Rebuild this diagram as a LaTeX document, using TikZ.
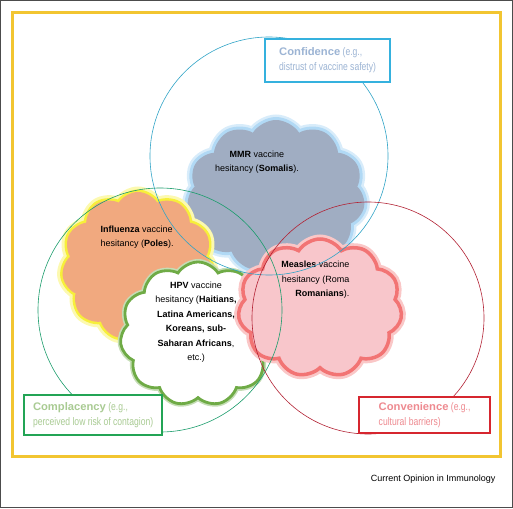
\documentclass[tikz,border=0pt]{standalone}
\usepackage{fontspec}
\setmainfont{Liberation Sans}
\newfontfamily\widefont{Liberation Sans}[FakeStretch=1.02]
\newfontfamily\narrowfont{Liberation Sans}[FakeStretch=0.78]
\usepackage{xcolor}
\usepackage{tikz}
\usetikzlibrary{positioning,shapes.symbols}
\definecolor{frameyellow}{HTML}{F2C531}
\definecolor{confline}{HTML}{2FA3C6}
\definecolor{compline}{HTML}{1A9C6B}
\definecolor{convline}{HTML}{B22234}
\definecolor{confbox}{HTML}{35B1DE}
\definecolor{conftext}{HTML}{9CB4D4}
\definecolor{compbox}{HTML}{23A455}
\definecolor{comptext}{HTML}{A9CB93}
\definecolor{convbox}{HTML}{D6262F}
\definecolor{convtext}{HTML}{EE8A90}
\definecolor{mmrfill}{HTML}{A0ADC2}
\definecolor{mmrglow}{HTML}{9DD0F2}
\definecolor{flufill}{HTML}{F1A97F}
\definecolor{fluglow}{HTML}{F7EF3A}
\definecolor{hpvline}{HTML}{6FAB46}
\definecolor{measfill}{HTML}{F8C6CB}
\definecolor{measline}{HTML}{F27474}
\newcommand{\tagname}[1]{{\widefont\bfseries #1}}

\begin{document}
\begin{tikzpicture}[x=1pt,y=-1pt,font=\fontsize{9}{14.5}\selectfont,
   ring/.style={circle,draw,line width=0.6pt,minimum size=#1,inner sep=0pt},
   puff/.style={cloud,cloud puffs=11,cloud puff arc=115,cloud ignores aspect,inner sep=0pt},
   tag/.style={draw,line width=2.2pt,fill=white,anchor=north west,align=left,
     inner xsep=8pt,inner ysep=0pt,font=\narrowfont\fontsize{11}{15}\selectfont},
   frame/.style={draw=frameyellow,line width=3pt}]
 \useasboundingbox (0,0) rectangle (513,508);
 \draw[line width=0.8pt,draw=black!70] (0.4,0.4) rectangle (512.6,507.6);
 \draw[frame] (12.5,12.5) rectangle (500.5,456);
 \node[puff,fill=mmrfill,minimum width=178pt,minimum height=152pt,
   preaction={draw=mmrglow!40,line width=11pt},preaction={draw=mmrglow!80,line width=6pt}] (mmr) at (276,196) {};
 \node[puff,fill=flufill,minimum width=152pt,minimum height=148pt,
   preaction={draw=fluglow!40,line width=11pt},preaction={draw=fluglow,line width=5pt}] (flu) at (138,266) {};
 \node[puff,fill=white,draw=hpvline,line width=2.8pt,minimum width=156pt,minimum height=144pt,
   preaction={draw=hpvline!40,line width=6pt}] (hpv) at (198,334) {};
 \node[puff,fill=measfill,draw=measline,line width=3.5pt,minimum width=164pt,minimum height=138pt,
   preaction={draw=measline!40,line width=9pt}] (meas) at (320,308) {};
 \node[align=center] (mmrt) at (257,162) {\textbf{MMR} vaccine\\hesitancy (\textbf{Somalis}).};
 \node[align=left,anchor=west] (flut) at (97,237) {\textbf{Influenza} vaccine\\hesitancy (\textbf{Poles}).};
 \node[align=center] (hpvt) at (196,322) {\textbf{HPV} vaccine\\hesitancy (\textbf{Haitians,}\\\textbf{Latina Americans,}\\\textbf{Koreans, sub-}\\\textbf{Saharan Africans},\\etc.)};
 \node[align=right,anchor=east] (meast) at (353,280) {\textbf{Measles} vaccine\\hesitancy (Roma\\\textbf{Romanians}).};
 \node[ring=238pt,draw=confline] (conf) at (269,156) {};
 \node[ring=244pt,draw=compline] (comp) at (160,310) {};
 \node[ring=232pt,draw=convline] (conv) at (368,318) {};
 \node[tag,draw=confbox,text=conftext,minimum width=125pt,minimum height=43pt] (cfd) at (264,38) {\tagname{Confidence} (e.g.,\\distrust of vaccine safety)};
 \node[tag,draw=compbox,text=comptext,minimum width=138pt,minimum height=40pt] (cpl) at (23,394) {\tagname{Complacency} (e.g.,\\perceived low risk of contagion)};
 \node[tag,draw=convbox,text=convtext,minimum width=131pt,minimum height=36pt] (cnv) at (358,396) {\tagname{Convenience} (e.g.,\\cultural barriers)};
 \node[anchor=east] (src) at (499,479) {Current Opinion in Immunology};
\end{tikzpicture}
\end{document}
